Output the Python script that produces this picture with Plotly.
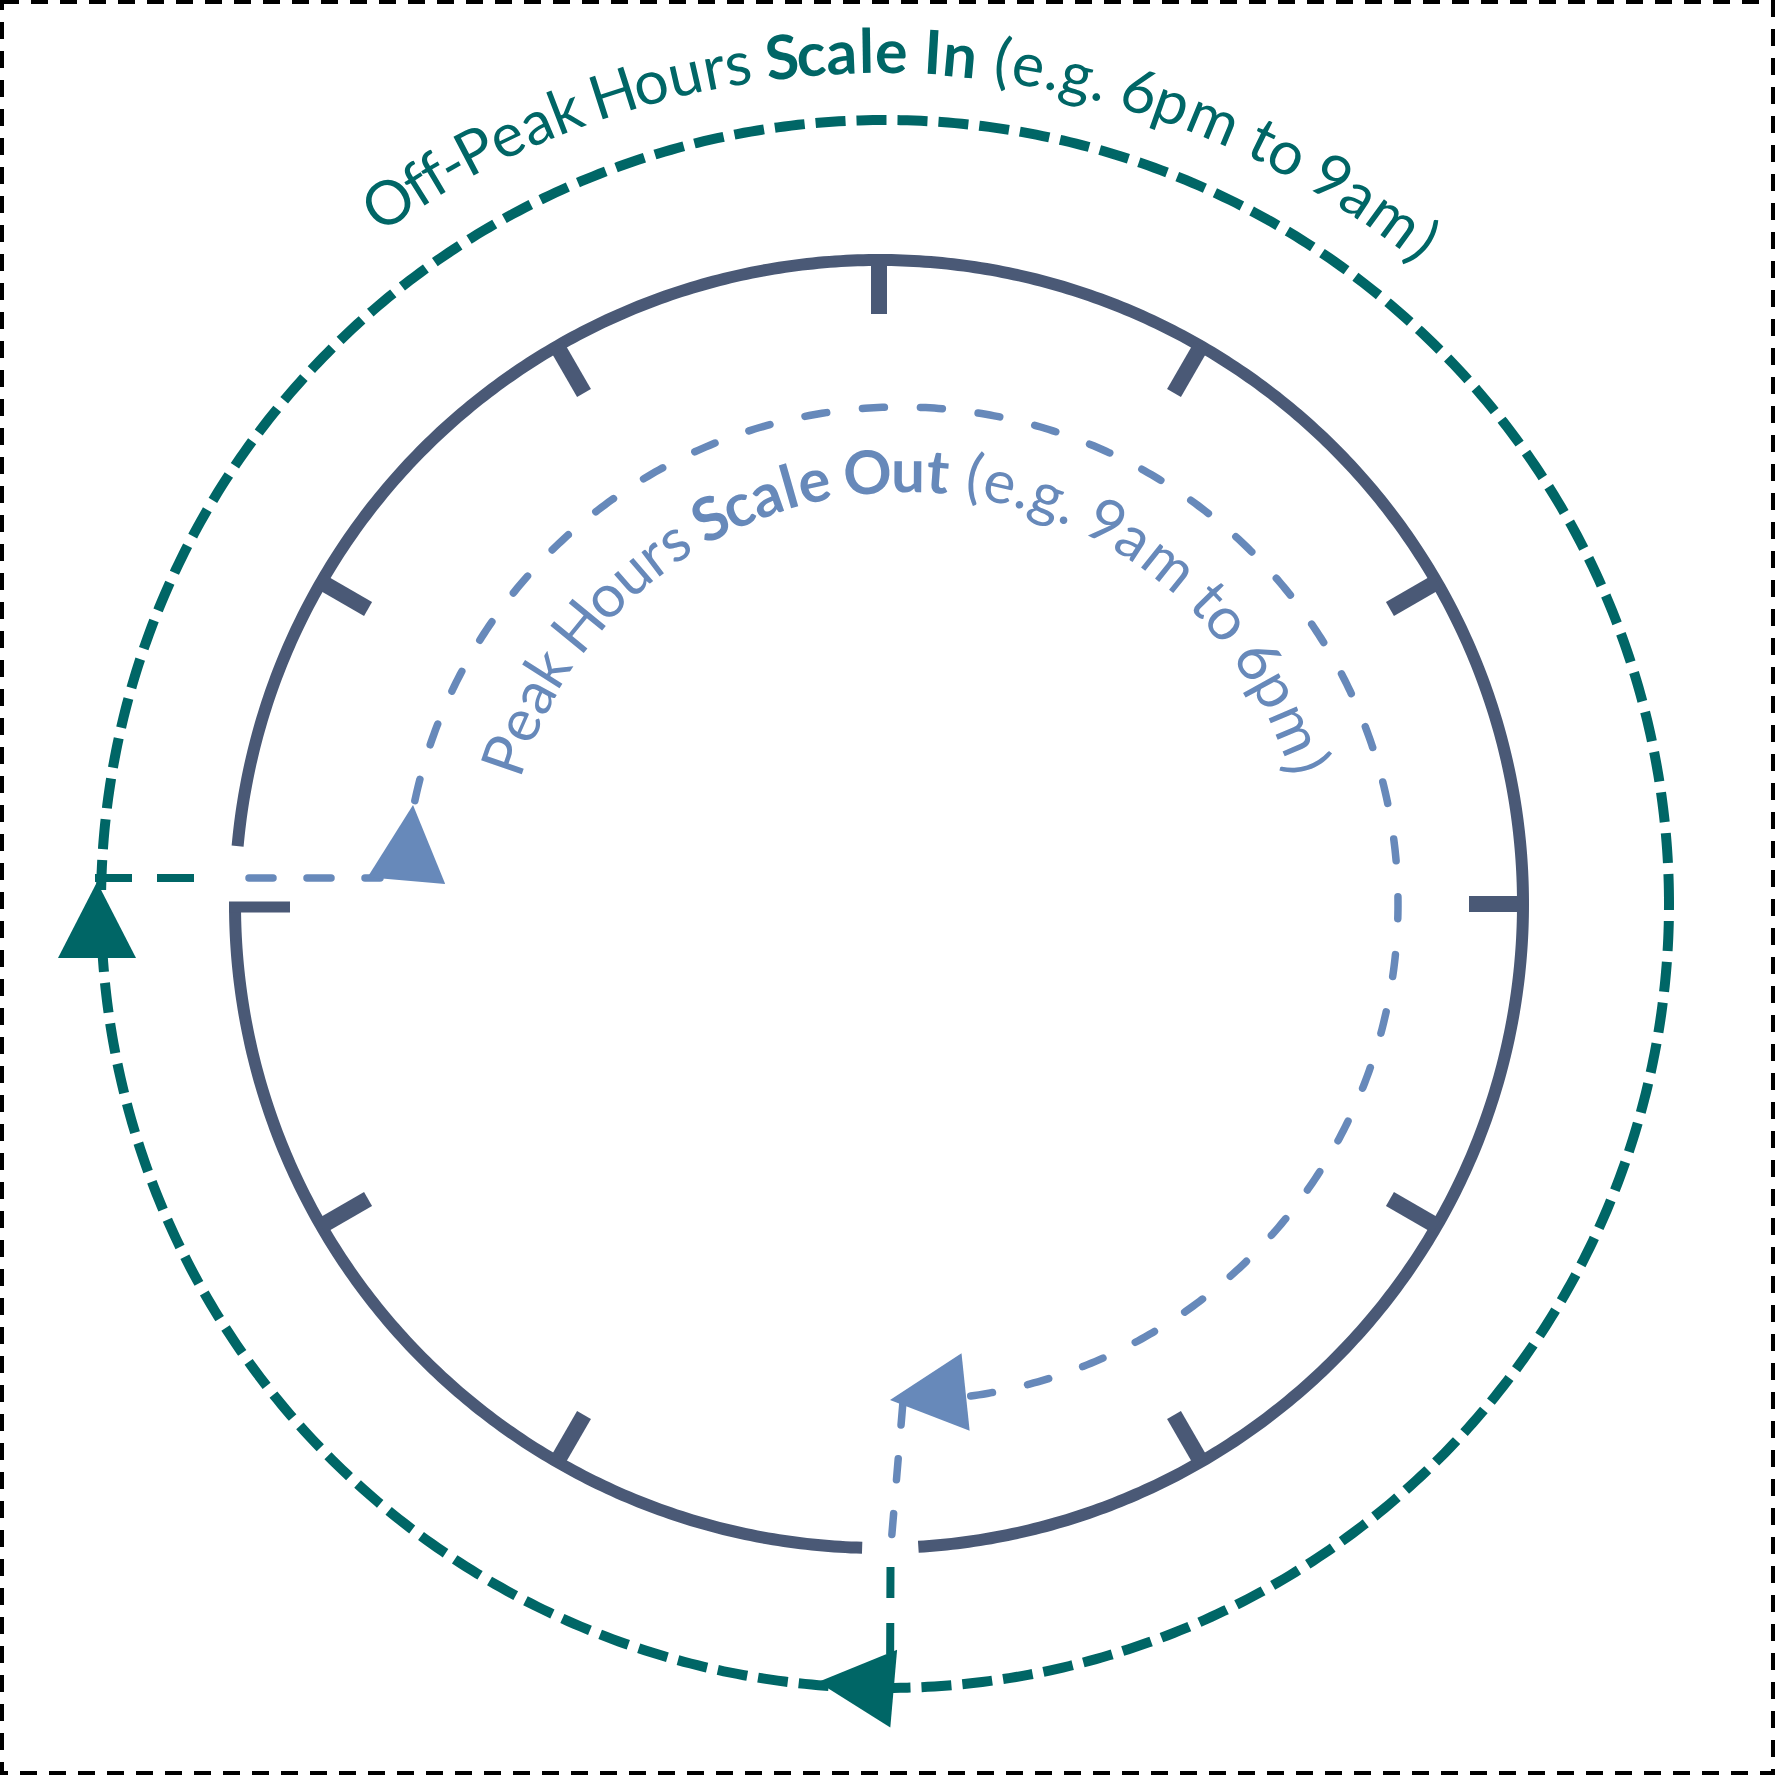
import numpy as np
import plotly.graph_objects as go

W = H = 1775

# colours
TEAL = "#006666"
SLATE = "#4A5976"
BLUE = "#6789BA"

# clock face (angles in degrees, counter-clockwise from 3 o'clock)
CLOCK_CENTER = (879, 904)
CLOCK_R = 644
CLOCK_ARCS = [(180, 268.5), (273.5, 534.85)]
TICK_HOURS = [12, 1, 2, 3, 4, 5, 7, 8, 10, 11]
TICK_INNER_R = 590

# off-peak ring and peak arc
OUTER_CENTER = (885, 904)
OUTER_R = 784
INNER_CENTER = (901, 904)
INNER_R = 497
INNER_ARC = (168.0, -82.0)

# connectors: (start point, end point, colour, dash)
LINKS = [
    ((95, 878), (217, 878), TEAL, "37px,25px"),
    ((249, 878), (380, 878), BLUE, "24px,34px"),
    ((902.8, 1404), (891, 1545), BLUE, "21px,34px"),
    ((890.5, 1567), (890, 1690), TEAL, "31px,25px"),
]

# arrowheads: tip x, tip y, heading (screen degrees), colour
ARROWS = [
    (97, 882, -90, TEAL),
    (818, 1682, 185, TEAL),
    (413, 805, -85, BLUE),
    (890, 1400, 174, BLUE),
]
ARROW_LEN = 76
ARROW_W = 78

# curved labels: (text, bold)
OUTER_LABEL = [("Off-Peak Hours ", False), ("Scale In", True), (" (e.g. 6pm to 9am)", False)]
INNER_LABEL = [("Peak Hours ", False), ("Scale Out", True), (" (e.g. 9am to 6pm)", False)]
OUTER_PATH = dict(center=(880, 925), r=852, start=124.2, end=51.45, size=61)
INNER_PATH = dict(center=(906, 894), r=402, start=160.9, end=17.95, size=60)

# rough advance widths (em) used to space the letters along the arcs
REG_W = {" ": 0.226, "(": 0.303, ")": 0.303, "-": 0.306, ".": 0.252, "6": 0.507, "9": 0.507,
         "H": 0.623, "O": 0.662, "P": 0.517, "a": 0.479, "e": 0.498, "f": 0.305, "g": 0.471,
         "k": 0.455, "m": 0.799, "o": 0.527, "p": 0.525, "r": 0.349, "s": 0.391, "t": 0.335,
         "u": 0.525}
BOLD_W = {" ": 0.226, "S": 0.473, "c": 0.418, "a": 0.494, "l": 0.246, "e": 0.503, "I": 0.267,
          "n": 0.537, "O": 0.676, "u": 0.537, "t": 0.347}


def arc_path(center, r, a0, a1, step=0.5, close=False):
    n = int(abs(a1 - a0) / step) + 2
    th = np.radians(np.linspace(a0, a1, n))
    xs = center[0] + r * np.cos(th)
    ys = center[1] - r * np.sin(th)
    p = "M " + " L ".join(f"{x:.2f},{y:.2f}" for x, y in zip(xs, ys))
    return p + (" Z" if close else "")


def label_annotations(parts, center, r, start, end, size, color):
    chars = []
    for text, bold in parts:
        for ch in text:
            chars.append((ch, bold, (BOLD_W if bold else REG_W)[ch]))
    widths = np.array([c[2] for c in chars])
    pos = np.cumsum(widths) - widths / 2
    k = (start - end) / (pos[-1] - pos[0])
    r_mid = r + 0.387 * size
    anns = []
    for (ch, bold, _), p in zip(chars, pos):
        if ch == " ":
            continue
        th = start - (p - pos[0]) * k
        t = np.radians(th)
        anns.append(dict(
            x=center[0] + r_mid * np.cos(t), y=center[1] - r_mid * np.sin(t),
            xref="x", yref="y", showarrow=False,
            text=f"<b>{ch}</b>" if bold else ch,
            textangle=90 - th, xanchor="center", yanchor="middle",
            font=dict(family="Lato", size=size, color=color),
        ))
    return anns


shapes = []

# page border
shapes.append(dict(type="rect", x0=2, y0=2, x1=W - 2, y1=H - 2, xref="x", yref="y",
                   line=dict(color="black", width=4, dash="17px,12px")))

# clock circle and ticks
for a0, a1 in CLOCK_ARCS:
    shapes.append(dict(type="path", path=arc_path(CLOCK_CENTER, CLOCK_R, a0, a1),
                       xref="x", yref="y", line=dict(color=SLATE, width=12)))
for h in TICK_HOURS:
    t = np.radians(90 - 30 * h)
    cx, cy = CLOCK_CENTER
    shapes.append(dict(type="line", xref="x", yref="y",
                       x0=cx + CLOCK_R * np.cos(t), y0=cy - CLOCK_R * np.sin(t),
                       x1=cx + TICK_INNER_R * np.cos(t), y1=cy - TICK_INNER_R * np.sin(t),
                       line=dict(color=SLATE, width=16)))
# 9 o'clock: short foot where the lower arc begins
shapes.append(dict(type="line", xref="x", yref="y",
                   x0=CLOCK_CENTER[0] - CLOCK_R - 6, y0=CLOCK_CENTER[1] + 3,
                   x1=CLOCK_CENTER[0] - TICK_INNER_R + 1, y1=CLOCK_CENTER[1] + 3,
                   line=dict(color=SLATE, width=11)))

# off-peak ring
shapes.append(dict(type="path", path=arc_path(OUTER_CENTER, OUTER_R, 0, 360, close=True),
                   xref="x", yref="y", line=dict(color=TEAL, width=10, dash="30px,11px")))

# peak arc
shapes.append(dict(type="path", path=arc_path(INNER_CENTER, INNER_R, *INNER_ARC),
                   xref="x", yref="y", line=dict(color=BLUE, width=7.5, dash="22px,36px")))

# connectors
for (x0, y0), (x1, y1), col, dash in LINKS:
    shapes.append(dict(type="line", xref="x", yref="y", x0=x0, y0=y0, x1=x1, y1=y1,
                       line=dict(color=col, width=8 if col == TEAL else 7.5, dash=dash)))

# arrowheads
for tx, ty, head, col in ARROWS:
    d = np.array([np.cos(np.radians(head)), np.sin(np.radians(head))])
    n = np.array([-d[1], d[0]])
    base = np.array([tx, ty]) - ARROW_LEN * d
    c1 = base + ARROW_W / 2 * n
    c2 = base - ARROW_W / 2 * n
    shapes.append(dict(type="path", xref="x", yref="y",
                       path=f"M {tx},{ty} L {c1[0]:.2f},{c1[1]:.2f} L {c2[0]:.2f},{c2[1]:.2f} Z",
                       fillcolor=col, line=dict(width=0)))

annotations = (label_annotations(OUTER_LABEL, color=TEAL, **OUTER_PATH)
               + label_annotations(INNER_LABEL, color=BLUE, **INNER_PATH))

fig = go.Figure()
fig.update_layout(
    width=W, height=H,
    margin=dict(l=0, r=0, t=0, b=0),
    paper_bgcolor="white", plot_bgcolor="white",
    xaxis=dict(range=[0, W], visible=False, fixedrange=True),
    yaxis=dict(range=[H, 0], visible=False, fixedrange=True),
    shapes=shapes,
    annotations=annotations,
    showlegend=False,
)

# drop the page margin so the figure sits at the window corner,
# and give the light-blue dashes rounded ends
post = """
document.body.style.margin = '0';
var gd = document.getElementById('{plot_id}');
gd.querySelectorAll('path').forEach(function (p) {
    var s = (window.getComputedStyle(p).stroke || '').replace(/\\s/g, '');
    if (s === 'rgb(103,137,186)') { p.style.strokeLinecap = 'round'; }
});
"""

fig.write_html("out.html", post_script=post, config={"displayModeBar": False})
